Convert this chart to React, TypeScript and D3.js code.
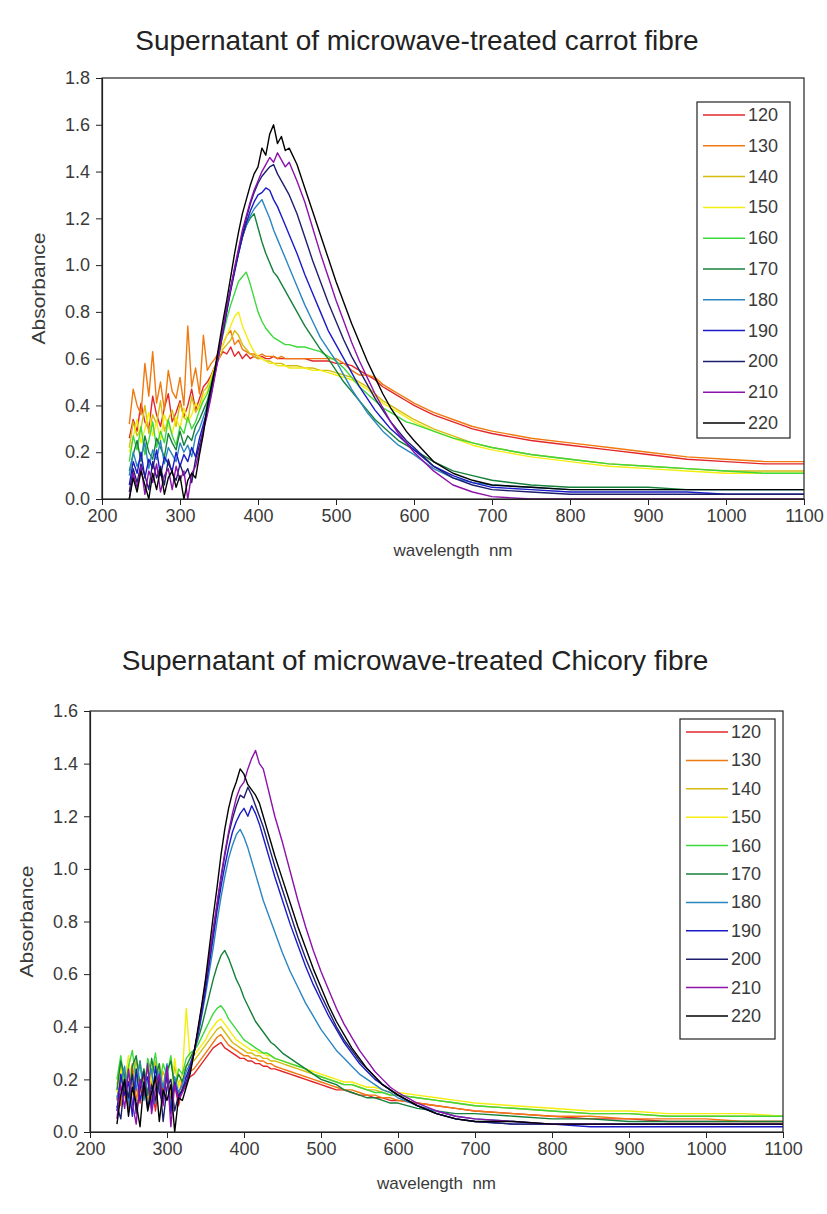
import { useEffect, useRef } from 'react';
import * as d3 from 'd3';

// wavelength grid (nm) shared by every spectrum
const wavelengths = [
  235, 240, 245, 250, 255, 260, 265, 270, 275, 280, 285, 290, 295, 300, 305, 310, 315, 320, 325, 330,
  335, 340, 345, 350, 355, 360, 365, 370, 375, 380, 385, 390, 395, 400, 405, 410, 415, 420, 425, 430, 435, 440,
  450, 460, 470, 480, 490, 500, 510, 520, 530, 540, 550, 560, 570, 580, 590, 600,
  625, 650, 675, 700, 750, 800, 850, 900, 950, 1000, 1050, 1100,
];

const temps = ['120', '130', '140', '150', '160', '170', '180', '190', '200', '210', '220'];
const seriesColors = ['#e2262a', '#f07a10', '#d6bc10', '#f4ee10', '#3cd83c', '#15803a', '#2a86c0', '#1a1ac8', '#1e1e6e', '#8c12aa', '#000000'];

const xTicks = [200, 300, 400, 500, 600, 700, 800, 900, 1000, 1100];
const carrotYTicks = [0, 0.2, 0.4, 0.6, 0.8, 1.0, 1.2, 1.4, 1.6, 1.8];
const chicoryYTicks = [0, 0.2, 0.4, 0.6, 0.8, 1.0, 1.2, 1.4, 1.6];

// ---- carrot fibre ----
const carrot120 = [
  0.26, 0.34, 0.29, 0.41, 0.33, 0.30, 0.44, 0.36, 0.31, 0.39, 0.45, 0.33, 0.37, 0.42, 0.35, 0.40, 0.47, 0.38, 0.43, 0.48,
  0.50, 0.53, 0.57, 0.60, 0.63, 0.62, 0.65, 0.61, 0.63, 0.60, 0.62, 0.60, 0.61, 0.60, 0.61, 0.60, 0.60, 0.61, 0.60, 0.60, 0.60, 0.60,
  0.60, 0.60, 0.59, 0.59, 0.59, 0.58, 0.58, 0.57, 0.55, 0.53, 0.51, 0.48, 0.46, 0.44, 0.42, 0.40,
  0.36, 0.33, 0.30, 0.28, 0.25, 0.23, 0.21, 0.19, 0.17, 0.16, 0.15, 0.15,
];
const carrot130 = [
  0.32, 0.47, 0.40, 0.36, 0.58, 0.44, 0.63, 0.41, 0.50, 0.38, 0.55, 0.46, 0.43, 0.52, 0.40, 0.74, 0.48, 0.56, 0.45, 0.70,
  0.55, 0.58, 0.60, 0.63, 0.66, 0.70, 0.72, 0.66, 0.68, 0.64, 0.63, 0.62, 0.62, 0.61, 0.62, 0.61, 0.61, 0.61, 0.60, 0.61, 0.60, 0.60,
  0.60, 0.60, 0.60, 0.60, 0.60, 0.60, 0.58, 0.55, 0.53, 0.53, 0.52, 0.49, 0.47, 0.45, 0.43, 0.41,
  0.37, 0.34, 0.31, 0.29, 0.26, 0.24, 0.22, 0.20, 0.18, 0.17, 0.16, 0.16,
];
const carrot140 = [
  0.22, 0.33, 0.27, 0.30, 0.40, 0.28, 0.36, 0.32, 0.42, 0.29, 0.34, 0.38, 0.31, 0.41, 0.35, 0.33, 0.44, 0.37, 0.40, 0.46,
  0.48, 0.52, 0.56, 0.60, 0.64, 0.66, 0.68, 0.72, 0.70, 0.66, 0.64, 0.62, 0.61, 0.60, 0.60, 0.59, 0.59, 0.58, 0.58, 0.58, 0.57, 0.57,
  0.57, 0.56, 0.56, 0.55, 0.55, 0.54, 0.53, 0.52, 0.50, 0.48, 0.45, 0.42, 0.40, 0.38, 0.36, 0.34,
  0.30, 0.27, 0.24, 0.22, 0.19, 0.17, 0.15, 0.14, 0.13, 0.12, 0.12, 0.12,
];
const carrot150 = [
  0.20, 0.26, 0.34, 0.24, 0.30, 0.37, 0.27, 0.33, 0.25, 0.36, 0.31, 0.28, 0.35, 0.30, 0.39, 0.33, 0.36, 0.41, 0.38, 0.44,
  0.46, 0.52, 0.57, 0.62, 0.66, 0.70, 0.74, 0.78, 0.80, 0.74, 0.70, 0.66, 0.63, 0.61, 0.60, 0.59, 0.58, 0.58, 0.57, 0.57, 0.57, 0.56,
  0.56, 0.56, 0.55, 0.55, 0.54, 0.53, 0.52, 0.51, 0.49, 0.47, 0.44, 0.41, 0.39, 0.37, 0.35, 0.33,
  0.29, 0.26, 0.23, 0.21, 0.18, 0.16, 0.14, 0.13, 0.12, 0.11, 0.11, 0.11,
];
const carrot160 = [
  0.16, 0.27, 0.21, 0.31, 0.19, 0.25, 0.33, 0.22, 0.29, 0.24, 0.34, 0.27, 0.23, 0.31, 0.28, 0.35, 0.30, 0.33, 0.38, 0.42,
  0.45, 0.50, 0.56, 0.63, 0.70, 0.77, 0.83, 0.88, 0.93, 0.95, 0.97, 0.92, 0.86, 0.80, 0.76, 0.73, 0.71, 0.69, 0.68, 0.67, 0.66, 0.66,
  0.65, 0.65, 0.64, 0.63, 0.61, 0.59, 0.56, 0.52, 0.48, 0.45, 0.42, 0.39, 0.37, 0.35, 0.33, 0.32,
  0.29, 0.26, 0.24, 0.22, 0.19, 0.17, 0.15, 0.14, 0.13, 0.12, 0.11, 0.11,
];
const carrot170 = [
  0.12, 0.19, 0.25, 0.16, 0.27, 0.20, 0.17, 0.26, 0.22, 0.18, 0.28, 0.24, 0.21, 0.29, 0.23, 0.27, 0.25, 0.31, 0.34, 0.38,
  0.42, 0.48, 0.56, 0.64, 0.73, 0.82, 0.90, 0.98, 1.05, 1.12, 1.17, 1.20, 1.22, 1.16, 1.10, 1.05, 1.01, 0.97, 0.95, 0.92, 0.89, 0.86,
  0.80, 0.74, 0.69, 0.64, 0.60, 0.55, 0.50, 0.46, 0.42, 0.38, 0.34, 0.31, 0.28, 0.25, 0.23, 0.21,
  0.16, 0.12, 0.10, 0.08, 0.06, 0.05, 0.05, 0.05, 0.04, 0.04, 0.04, 0.04,
];
const carrot180 = [
  0.10, 0.20, 0.14, 0.18, 0.24, 0.13, 0.21, 0.17, 0.25, 0.15, 0.22, 0.19, 0.16, 0.24, 0.20, 0.23, 0.18, 0.27, 0.30, 0.35,
  0.40, 0.47, 0.55, 0.63, 0.72, 0.81, 0.90, 0.98, 1.05, 1.12, 1.17, 1.21, 1.24, 1.26, 1.28, 1.24, 1.20, 1.15, 1.11, 1.07, 1.03, 0.99,
  0.91, 0.83, 0.76, 0.69, 0.64, 0.59, 0.53, 0.47, 0.42, 0.37, 0.33, 0.29, 0.26, 0.23, 0.21, 0.19,
  0.13, 0.09, 0.07, 0.06, 0.05, 0.04, 0.04, 0.04, 0.04, 0.04, 0.04, 0.04,
];
const carrot190 = [
  0.06, 0.16, 0.11, 0.20, 0.09, 0.17, 0.13, 0.21, 0.10, 0.18, 0.15, 0.12, 0.20, 0.14, 0.19, 0.16, 0.22, 0.18, 0.26, 0.32,
  0.38, 0.46, 0.54, 0.62, 0.71, 0.80, 0.89, 0.97, 1.05, 1.12, 1.18, 1.23, 1.27, 1.30, 1.31, 1.33, 1.32, 1.28, 1.25, 1.21, 1.17, 1.13,
  1.05, 0.96, 0.88, 0.80, 0.72, 0.66, 0.60, 0.54, 0.48, 0.43, 0.38, 0.34, 0.30, 0.27, 0.24, 0.21,
  0.14, 0.10, 0.07, 0.05, 0.04, 0.03, 0.03, 0.03, 0.03, 0.02, 0.02, 0.02,
];
const carrot200 = [
  0.03, 0.13, 0.07, 0.15, 0.10, 0.04, 0.16, 0.09, 0.14, 0.06, 0.17, 0.11, 0.08, 0.15, 0.10, 0.13, 0.07, 0.17, 0.23, 0.30,
  0.37, 0.45, 0.54, 0.63, 0.72, 0.81, 0.90, 0.98, 1.06, 1.13, 1.20, 1.26, 1.31, 1.35, 1.38, 1.40, 1.42, 1.43, 1.39, 1.36, 1.33, 1.30,
  1.22, 1.12, 1.02, 0.93, 0.84, 0.76, 0.68, 0.61, 0.55, 0.49, 0.43, 0.38, 0.33, 0.29, 0.25, 0.22,
  0.14, 0.09, 0.06, 0.04, 0.03, 0.02, 0.02, 0.02, 0.02, 0.02, 0.02, 0.02,
];
const carrot210 = [
  0.00, 0.11, 0.05, 0.14, 0.02, 0.12, 0.07, 0.15, 0.03, 0.10, 0.13, 0.04, 0.14, 0.08, 0.12, 0.00, 0.11, 0.14, 0.21, 0.29,
  0.36, 0.44, 0.53, 0.62, 0.72, 0.82, 0.90, 0.99, 1.07, 1.15, 1.21, 1.27, 1.32, 1.36, 1.40, 1.43, 1.46, 1.44, 1.48, 1.45, 1.42, 1.44,
  1.36, 1.27, 1.16, 1.05, 0.95, 0.85, 0.76, 0.67, 0.59, 0.52, 0.45, 0.39, 0.33, 0.28, 0.24, 0.20,
  0.12, 0.06, 0.03, 0.01, 0.00, 0.00, 0.00, 0.00, 0.00, 0.00, 0.00, 0.00,
];
const carrot220 = [
  0.00, 0.09, 0.03, 0.12, 0.06, 0.00, 0.11, 0.04, 0.13, 0.02, 0.09, 0.12, 0.05, 0.10, 0.00, 0.08, 0.11, 0.09, 0.19, 0.28,
  0.40, 0.48, 0.56, 0.66, 0.76, 0.85, 0.95, 1.05, 1.14, 1.22, 1.28, 1.34, 1.39, 1.42, 1.50, 1.47, 1.56, 1.60, 1.52, 1.55, 1.49, 1.50,
  1.43, 1.33, 1.23, 1.13, 1.03, 0.93, 0.84, 0.75, 0.67, 0.59, 0.52, 0.45, 0.39, 0.34, 0.29, 0.25,
  0.16, 0.11, 0.08, 0.06, 0.05, 0.04, 0.04, 0.04, 0.04, 0.04, 0.04, 0.04,
];

// ---- chicory fibre ----
const chicory120 = [
  0.12, 0.21, 0.15, 0.09, 0.24, 0.17, 0.11, 0.22, 0.14, 0.19, 0.08, 0.20, 0.16, 0.23, 0.12, 0.18, 0.10, 0.17, 0.19, 0.21,
  0.22, 0.24, 0.26, 0.28, 0.30, 0.32, 0.33, 0.34, 0.32, 0.31, 0.30, 0.29, 0.28, 0.28, 0.27, 0.27, 0.26, 0.26, 0.25, 0.25, 0.24, 0.24,
  0.23, 0.22, 0.21, 0.20, 0.19, 0.18, 0.17, 0.16, 0.16, 0.15, 0.14, 0.14, 0.13, 0.13, 0.12, 0.12,
  0.11, 0.10, 0.09, 0.08, 0.07, 0.06, 0.05, 0.05, 0.04, 0.04, 0.04, 0.04,
];
const chicory130 = [
  0.14, 0.10, 0.23, 0.18, 0.26, 0.12, 0.20, 0.16, 0.25, 0.11, 0.21, 0.17, 0.13, 0.24, 0.15, 0.19, 0.14, 0.20, 0.21, 0.23,
  0.24, 0.26, 0.28, 0.30, 0.32, 0.34, 0.36, 0.37, 0.35, 0.33, 0.32, 0.31, 0.30, 0.29, 0.29, 0.28, 0.28, 0.27, 0.27, 0.26, 0.26, 0.25,
  0.24, 0.23, 0.22, 0.21, 0.20, 0.19, 0.18, 0.17, 0.16, 0.16, 0.15, 0.14, 0.14, 0.13, 0.13, 0.12,
  0.11, 0.10, 0.09, 0.08, 0.07, 0.06, 0.06, 0.05, 0.05, 0.05, 0.04, 0.04,
];
const chicory140 = [
  0.18, 0.26, 0.13, 0.22, 0.17, 0.28, 0.15, 0.24, 0.12, 0.21, 0.27, 0.16, 0.23, 0.19, 0.14, 0.25, 0.18, 0.22, 0.25, 0.26,
  0.27, 0.29, 0.31, 0.33, 0.35, 0.37, 0.39, 0.40, 0.38, 0.36, 0.34, 0.33, 0.32, 0.31, 0.30, 0.30, 0.29, 0.29, 0.28, 0.28, 0.27, 0.27,
  0.26, 0.25, 0.24, 0.23, 0.22, 0.21, 0.20, 0.19, 0.18, 0.18, 0.17, 0.16, 0.16, 0.15, 0.14, 0.14,
  0.13, 0.12, 0.11, 0.10, 0.09, 0.08, 0.07, 0.07, 0.06, 0.06, 0.06, 0.06,
];
const chicory150 = [
  0.15, 0.24, 0.19, 0.29, 0.14, 0.22, 0.27, 0.16, 0.25, 0.20, 0.13, 0.26, 0.18, 0.23, 0.15, 0.28, 0.17, 0.22, 0.47, 0.28,
  0.29, 0.31, 0.33, 0.35, 0.38, 0.40, 0.42, 0.43, 0.41, 0.39, 0.37, 0.35, 0.34, 0.33, 0.32, 0.31, 0.31, 0.30, 0.30, 0.29, 0.29, 0.28,
  0.27, 0.26, 0.25, 0.24, 0.23, 0.22, 0.21, 0.20, 0.19, 0.19, 0.18, 0.17, 0.17, 0.16, 0.15, 0.15,
  0.14, 0.13, 0.12, 0.11, 0.10, 0.09, 0.08, 0.08, 0.07, 0.07, 0.07, 0.06,
];
const chicory160 = [
  0.20, 0.29, 0.17, 0.25, 0.31, 0.19, 0.27, 0.15, 0.28, 0.22, 0.30, 0.18, 0.26, 0.21, 0.29, 0.16, 0.24, 0.22, 0.28, 0.30,
  0.31, 0.33, 0.36, 0.39, 0.42, 0.45, 0.47, 0.48, 0.46, 0.43, 0.41, 0.39, 0.37, 0.35, 0.34, 0.33, 0.32, 0.31, 0.30, 0.30, 0.29, 0.28,
  0.27, 0.26, 0.25, 0.24, 0.22, 0.21, 0.20, 0.19, 0.18, 0.18, 0.17, 0.16, 0.15, 0.15, 0.14, 0.14,
  0.13, 0.12, 0.11, 0.10, 0.09, 0.08, 0.07, 0.07, 0.06, 0.06, 0.06, 0.06,
];
const chicory170 = [
  0.16, 0.27, 0.21, 0.13, 0.25, 0.29, 0.18, 0.24, 0.14, 0.28, 0.20, 0.26, 0.12, 0.23, 0.27, 0.17, 0.22, 0.19, 0.25, 0.28,
  0.31, 0.35, 0.40, 0.46, 0.52, 0.58, 0.63, 0.67, 0.69, 0.66, 0.62, 0.58, 0.55, 0.51, 0.48, 0.45, 0.42, 0.40, 0.38, 0.36, 0.34, 0.33,
  0.30, 0.28, 0.26, 0.24, 0.22, 0.20, 0.19, 0.18, 0.16, 0.15, 0.14, 0.13, 0.13, 0.12, 0.11, 0.11,
  0.09, 0.08, 0.07, 0.07, 0.06, 0.05, 0.05, 0.04, 0.04, 0.04, 0.04, 0.04,
];
const chicory180 = [
  0.13, 0.19, 0.25, 0.10, 0.22, 0.16, 0.27, 0.12, 0.20, 0.24, 0.11, 0.23, 0.17, 0.26, 0.09, 0.21, 0.15, 0.18, 0.23, 0.26,
  0.30, 0.36, 0.44, 0.52, 0.61, 0.70, 0.80, 0.89, 0.97, 1.04, 1.09, 1.13, 1.15, 1.12, 1.08, 1.03, 0.98, 0.93, 0.88, 0.84, 0.80, 0.76,
  0.68, 0.61, 0.55, 0.49, 0.44, 0.39, 0.35, 0.31, 0.28, 0.25, 0.22, 0.20, 0.18, 0.16, 0.15, 0.13,
  0.10, 0.08, 0.06, 0.05, 0.04, 0.03, 0.03, 0.03, 0.03, 0.03, 0.03, 0.03,
];
const chicory190 = [
  0.08, 0.22, 0.14, 0.19, 0.06, 0.24, 0.12, 0.18, 0.21, 0.09, 0.25, 0.15, 0.11, 0.22, 0.07, 0.19, 0.13, 0.16, 0.21, 0.25,
  0.30, 0.37, 0.45, 0.54, 0.64, 0.74, 0.84, 0.93, 1.01, 1.08, 1.14, 1.18, 1.21, 1.23, 1.20, 1.24, 1.21, 1.17, 1.12, 1.07, 1.02, 0.97,
  0.88, 0.79, 0.71, 0.63, 0.56, 0.50, 0.44, 0.39, 0.34, 0.30, 0.26, 0.23, 0.20, 0.18, 0.16, 0.14,
  0.10, 0.07, 0.05, 0.04, 0.03, 0.03, 0.02, 0.02, 0.02, 0.02, 0.02, 0.02,
];
const chicory200 = [
  0.10, 0.05, 0.19, 0.13, 0.22, 0.07, 0.16, 0.23, 0.09, 0.18, 0.12, 0.21, 0.04, 0.17, 0.20, 0.08, 0.14, 0.16, 0.19, 0.24,
  0.30, 0.38, 0.47, 0.56, 0.66, 0.76, 0.86, 0.96, 1.05, 1.13, 1.19, 1.24, 1.28, 1.27, 1.31, 1.28, 1.24, 1.20, 1.16, 1.11, 1.06, 1.01,
  0.92, 0.83, 0.74, 0.66, 0.59, 0.52, 0.46, 0.40, 0.35, 0.31, 0.27, 0.24, 0.21, 0.18, 0.16, 0.14,
  0.10, 0.07, 0.05, 0.04, 0.03, 0.03, 0.03, 0.03, 0.03, 0.03, 0.03, 0.03,
];
const chicory210 = [
  0.05, 0.18, 0.09, 0.24, 0.11, 0.03, 0.20, 0.14, 0.26, 0.07, 0.16, 0.22, 0.10, 0.25, 0.02, 0.18, 0.12, 0.15, 0.18, 0.23,
  0.30, 0.38, 0.47, 0.57, 0.67, 0.77, 0.87, 0.97, 1.06, 1.14, 1.21, 1.27, 1.31, 1.33, 1.38, 1.42, 1.45, 1.40, 1.38, 1.32, 1.26, 1.20,
  1.10, 0.99, 0.88, 0.78, 0.69, 0.61, 0.54, 0.47, 0.41, 0.36, 0.31, 0.27, 0.23, 0.20, 0.17, 0.15,
  0.11, 0.08, 0.06, 0.05, 0.04, 0.03, 0.03, 0.03, 0.03, 0.03, 0.03, 0.03,
];
const chicory220 = [
  0.03, 0.14, 0.20, 0.06, 0.17, 0.11, 0.02, 0.19, 0.08, 0.15, 0.21, 0.04, 0.16, 0.12, 0.18, 0.00, 0.13, 0.12, 0.17, 0.22,
  0.30, 0.39, 0.48, 0.58, 0.70, 0.82, 0.93, 1.05, 1.15, 1.23, 1.29, 1.33, 1.38, 1.36, 1.32, 1.30, 1.28, 1.25, 1.20, 1.15, 1.10, 1.05,
  0.96, 0.87, 0.78, 0.70, 0.62, 0.55, 0.48, 0.42, 0.37, 0.32, 0.28, 0.24, 0.21, 0.18, 0.16, 0.14,
  0.10, 0.07, 0.05, 0.04, 0.04, 0.03, 0.03, 0.03, 0.03, 0.03, 0.03, 0.03,
];

const carrotSeries = [carrot120, carrot130, carrot140, carrot150, carrot160, carrot170, carrot180, carrot190, carrot200, carrot210, carrot220];
const chicorySeries = [chicory120, chicory130, chicory140, chicory150, chicory160, chicory170, chicory180, chicory190, chicory200, chicory210, chicory220];

const FONT = '"Liberation Sans", Arial, sans-serif';

interface Panel {
  id: string;
  title: string;
  series: number[][];
  yMax: number;
  yTicks: number[];
  left: number;
  right: number;
  top: number;
  bottom: number;
  titleX: number;
  titleY: number;
  legend: { x: number; y: number; w: number; h: number; step: number };
}

function drawPanel(svg: d3.Selection<SVGSVGElement, unknown, null, undefined>, p: Panel) {
  const x = d3.scaleLinear().domain([200, 1100]).range([p.left, p.right]);
  const y = d3.scaleLinear().domain([0, p.yMax]).range([p.bottom, p.top]);
  const g = svg.append('g');

  g.append('text')
    .attr('x', p.titleX)
    .attr('y', p.titleY)
    .attr('text-anchor', 'middle')
    .attr('font-size', 28)
    .attr('fill', '#222')
    .text(p.title);

  g.append('clipPath').attr('id', `clip-${p.id}`)
    .append('rect')
    .attr('x', p.left).attr('y', p.top)
    .attr('width', p.right - p.left).attr('height', p.bottom - p.top);

  const line = d3.line<number>()
    .x((_, i) => x(wavelengths[i]))
    .y(d => y(d));

  const lines = g.append('g').attr('clip-path', `url(#clip-${p.id})`);
  p.series.forEach((s, i) => {
    lines.append('path')
      .attr('d', line(s))
      .attr('fill', 'none')
      .attr('stroke', seriesColors[i])
      .attr('stroke-width', 1.4)
      .attr('stroke-linejoin', 'round');
  });

  // frame
  g.append('rect')
    .attr('x', p.left).attr('y', p.top)
    .attr('width', p.right - p.left).attr('height', p.bottom - p.top)
    .attr('fill', 'none').attr('stroke', '#222').attr('stroke-width', 1.2);

  const yAxis = g.append('g')
    .attr('transform', `translate(${p.left},0)`)
    .call(d3.axisLeft(y).tickValues(p.yTicks).tickFormat(d3.format('.1f')).tickSizeInner(6).tickSizeOuter(0).tickPadding(6));
  const xAxis = g.append('g')
    .attr('transform', `translate(0,${p.bottom})`)
    .call(d3.axisBottom(x).tickValues(xTicks).tickFormat(d3.format('d')).tickSizeInner(6).tickSizeOuter(0).tickPadding(4));
  [yAxis, xAxis].forEach(a => {
    a.select('.domain').attr('stroke', '#222').attr('stroke-width', 1.2);
    a.selectAll('line').attr('stroke', '#222');
    a.selectAll('text').attr('font-size', 18).attr('font-family', FONT).attr('fill', '#3a3a3a');
  });

  g.append('text')
    .attr('transform', `translate(${p.left - 57},${(p.top + p.bottom) / 2}) rotate(-90)`)
    .attr('text-anchor', 'middle')
    .attr('font-size', 18)
    .attr('textLength', 112)
    .attr('lengthAdjust', 'spacingAndGlyphs')
    .attr('fill', '#3a3a3a')
    .text('Absorbance');

  g.append('text')
    .attr('x', (p.left + p.right) / 2)
    .attr('y', p.bottom + 57)
    .attr('text-anchor', 'middle')
    .attr('font-size', 17)
    .attr('fill', '#3a3a3a')
    .attr('xml:space', 'preserve')
    .text('wavelength  nm');

  const L = p.legend;
  const lg = g.append('g');
  lg.append('rect')
    .attr('x', L.x).attr('y', L.y).attr('width', L.w).attr('height', L.h)
    .attr('fill', '#fff').attr('stroke', '#222').attr('stroke-width', 1.2);
  temps.forEach((t, i) => {
    const cy = L.y + 13 + i * L.step;
    lg.append('line')
      .attr('x1', L.x + 6).attr('x2', L.x + 48)
      .attr('y1', cy).attr('y2', cy)
      .attr('stroke', seriesColors[i]).attr('stroke-width', 1.5);
    lg.append('text')
      .attr('x', L.x + 51).attr('y', cy + 6)
      .attr('font-size', 18)
      .attr('fill', '#3a3a3a')
      .text(t);
  });
}

export default function App() {
  const svgRef = useRef<SVGSVGElement>(null);

  useEffect(() => {
    if (!svgRef.current) return;
    const svg = d3.select(svgRef.current);
    svg.selectAll('*').remove();

    drawPanel(svg, {
      id: 'carrot',
      title: 'Supernatant of microwave-treated carrot fibre',
      series: carrotSeries,
      yMax: 1.8,
      yTicks: carrotYTicks,
      left: 102, right: 804, top: 78, bottom: 499,
      titleX: 417,
      titleY: 50,
      legend: { x: 697, y: 102, w: 93, h: 336, step: 30.8 },
    });

    drawPanel(svg, {
      id: 'chicory',
      title: 'Supernatant of microwave-treated Chicory fibre',
      series: chicorySeries,
      yMax: 1.6,
      yTicks: chicoryYTicks,
      left: 90, right: 783, top: 711, bottom: 1132,
      titleX: 415,
      titleY: 670,
      legend: { x: 680, y: 719, w: 95, h: 320, step: 28.4 },
    });
  }, []);

  return (
    <svg
      ref={svgRef}
      width={827}
      height={1214}
      style={{ position: 'absolute', left: 0, top: 0, background: '#fff', fontFamily: FONT }}
    />
  );
}
